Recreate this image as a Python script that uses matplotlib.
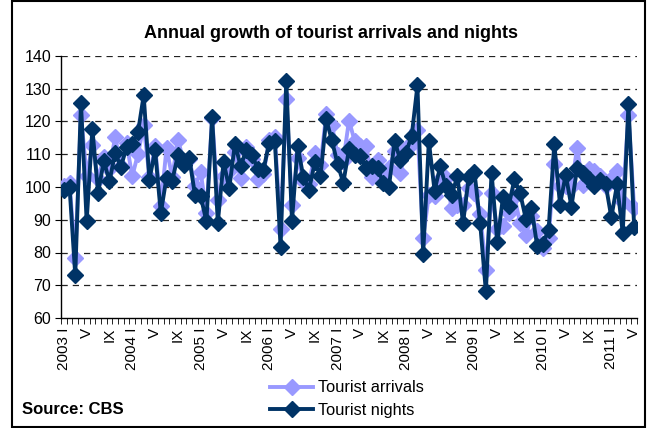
import matplotlib
matplotlib.use("Agg")
import matplotlib.pyplot as plt
from matplotlib.patches import Rectangle
import numpy as np

# Monthly index, same month of previous year = 100, 2003 I .. 2011 V
years = list(range(2003, 2012))
n_months = 101

arrivals = [
    100.3, 101.2, 78.3, 122.1, 103.3, 112.8, 102.3, 109.2, 105.6, 115.3, 106.5, 113.3,
    103.3, 110.1, 118.8, 103.2, 112.5, 94.1, 111.9, 103.0, 114.4, 108.0, 108.4, 100.4,
    104.5, 92.2, 121.0, 96.1, 103.3, 105.0, 110.6, 102.7, 112.2, 108.5, 102.3, 104.0,
    114.2, 115.4, 87.2, 127.0, 94.6, 108.9, 101.7, 101.0, 110.3, 106.7, 122.2, 119.0,
    109.8, 108.0, 120.3, 114.0, 112.6, 112.5, 103.2, 108.3, 103.2, 105.8, 110.9, 104.3,
    111.8, 113.0, 117.4, 84.4, 97.5, 97.4, 102.5, 102.7, 93.6, 94.4, 94.6, 99.7,
    98.1, 91.8, 74.7, 98.1, 87.3, 88.0, 92.1, 97.0, 89.1, 85.2, 91.1, 86.5,
    81.4, 84.5, 107.1, 100.2, 100.2, 100.1, 112.0, 100.6, 105.5, 105.0, 103.5, 100.4,
    102.5, 105.0, 95.4, 122.0, 93.6,
]

nights = [
    99.0, 100.0, 73.0, 125.6, 89.5, 117.8, 98.2, 107.9, 101.8, 110.4, 106.1, 112.2,
    113.2, 116.7, 128.0, 102.2, 111.2, 92.0, 102.9, 101.9, 109.7, 106.6, 108.8, 97.5,
    97.1, 89.5, 121.4, 89.1, 107.7, 99.6, 113.2, 106.4, 111.4, 109.9, 105.4, 105.2,
    113.5, 114.0, 81.8, 132.4, 89.7, 112.5, 103.0, 99.2, 107.5, 103.3, 120.7, 114.2,
    107.0, 101.3, 111.5, 109.8, 109.6, 105.7, 106.3, 105.7, 101.3, 100.1, 114.0, 108.3,
    110.5, 115.7, 131.0, 79.5, 114.0, 98.9, 106.3, 100.2, 97.5, 103.3, 89.0, 103.0,
    104.6, 88.9, 68.1, 104.4, 83.1, 96.9, 94.2, 102.3, 98.2, 90.3, 93.6, 81.9,
    82.5, 87.0, 113.2, 94.6, 103.8, 94.0, 105.8, 104.3, 102.3, 100.3, 102.0, 100.9,
    90.7, 100.8, 86.0, 125.2, 87.9,
]

month_names = ["I", "V", "IX"]

ARR_COLOR = "#9999FF"
NIGHT_COLOR = "#003366"

plt.rcParams["font.family"] = ["Liberation Sans", "DejaVu Sans"]

fig = plt.figure(figsize=(6.48, 4.28), dpi=100)
ax = fig.add_axes([61 / 648, 1 - 318 / 428, 576 / 648, 262 / 428])

x = np.arange(n_months)
ax.plot(x, arrivals, "D-", color=ARR_COLOR, linewidth=2.8, markersize=8,
        label="Tourist arrivals", zorder=3)
ax.plot(x, nights, "D-", color=NIGHT_COLOR, linewidth=2.8, markersize=8,
        label="Tourist nights", zorder=4)

ax.set_xlim(-0.5, n_months - 0.5)
ax.set_ylim(60, 140)
ax.set_yticks(range(60, 141, 10))
ax.tick_params(axis="y", labelsize=11.5, length=4, direction="out", pad=3)

# category labels every 4 months, year only on January
tick_pos = list(range(0, n_months, 4))
tick_lab = []
for p in tick_pos:
    m = p % 12
    if m == 0:
        tick_lab.append(f"{years[p // 12]} I")
    else:
        tick_lab.append(month_names[m // 4])
ax.set_xticks(tick_pos)
ax.set_xticklabels(tick_lab, rotation=90, fontsize=11, va="top")
ax.tick_params(axis="x", length=0, pad=7)
ax.set_xticks(np.arange(-0.5, n_months, 1), minor=True)
ax.tick_params(axis="x", which="minor", length=4, direction="out")

for v in range(70, 141, 10):
    ax.axhline(v, color="#222222", linewidth=0.9, linestyle=(0, (5, 4)), zorder=1)

for side in ("top", "right"):
    ax.spines[side].set_visible(False)
for side in ("left", "bottom"):
    ax.spines[side].set_linewidth(1.0)

fig.text(0.511, 1 - 33 / 428, "Annual growth of tourist arrivals and nights",
         ha="center", va="center", fontsize=13, fontweight="bold")
fig.text(22 / 648, 1 - 409 / 428, "Source: CBS", ha="left", va="center",
         fontsize=12, fontweight="bold")

fig.legend(loc="center", bbox_to_anchor=(347 / 648, 1 - 399 / 428), frameon=False,
           fontsize=11.8, handlelength=2.6, labelspacing=0.45, handletextpad=0.3)

fig.patches.append(Rectangle((12 / 648, 0.003), 633 / 648, 0.994,
                             transform=fig.transFigure, fill=False,
                             edgecolor="black", linewidth=1.5))

fig.savefig("out.png", dpi=100)
